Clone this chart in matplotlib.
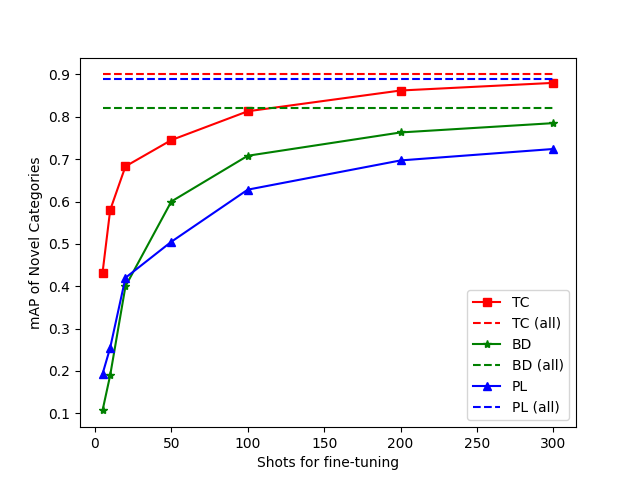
import matplotlib
matplotlib.use("Agg")
import matplotlib.pyplot as plt

shots = [5, 10, 20, 50, 100, 200, 300]
tc = [0.432, 0.580, 0.683, 0.745, 0.813, 0.862, 0.880]
bd = [0.107, 0.190, 0.400, 0.600, 0.708, 0.763, 0.785]
pl = [0.193, 0.255, 0.420, 0.505, 0.628, 0.697, 0.724]
tc_all = 0.900
bd_all = 0.820
pl_all = 0.888

fig, ax = plt.subplots(figsize=(6.4, 4.8), dpi=100)
ax.plot(shots, tc, 'rs-', label='TC')
ax.plot([shots[0], shots[-1]], [tc_all, tc_all], 'r--', label='TC (all)')
ax.plot(shots, bd, 'g*-', label='BD')
ax.plot([shots[0], shots[-1]], [bd_all, bd_all], 'g--', label='BD (all)')
ax.plot(shots, pl, 'b^-', label='PL')
ax.plot([shots[0], shots[-1]], [pl_all, pl_all], 'b--', label='PL (all)')
ax.set_xlabel('Shots for fine-tuning')
ax.set_ylabel('mAP of Novel Categories')
ax.legend(loc='lower right')
fig.savefig('out.png')
